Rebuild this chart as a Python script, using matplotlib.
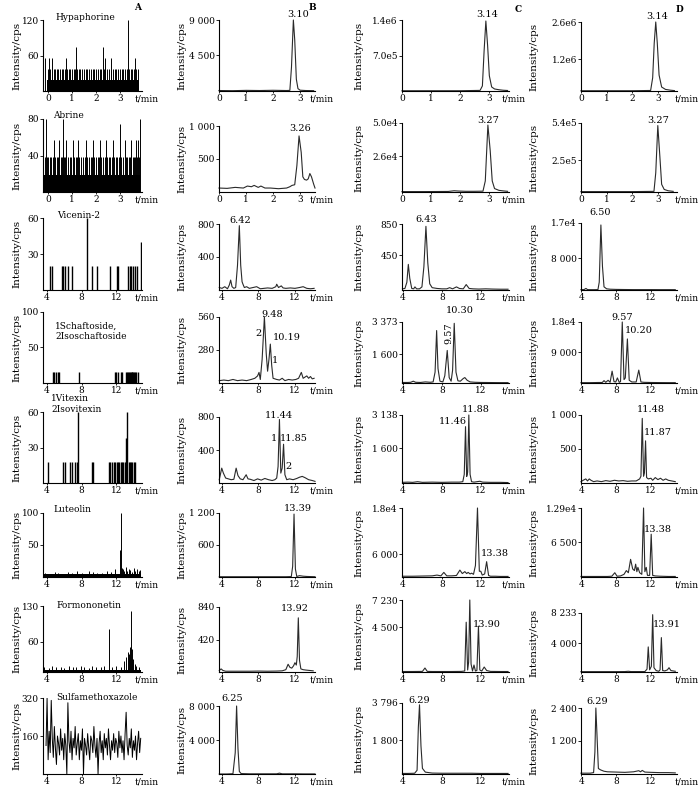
import numpy as np
import matplotlib.pyplot as plt

plt.rcParams['font.family'] = 'DejaVu Serif'

# ---------------- data ----------------
compounds = ['Hypaphorine', 'Abrine', 'Vicenin-2', '1Schaftoside,\n2Isoschaftoside',
             '1Vitexin\n2Isovitexin', 'Luteolin', 'Formononetin', 'Sulfamethoxazole']
panel_letters = ['A', 'B', 'C', 'D']
early_xticks = [0, 1, 2, 3]
late_xticks = [4, 8, 12]

yt_a = [[60, 120], [40, 80], [30, 60], [50, 100], [30, 60], [50, 100], [60, 130], [160, 320]]
yl_a = [['60', '120'], ['40', '80'], ['30', '60'], ['50', '100'], ['30', '60'], ['50', '100'], ['60', '130'], ['160', '320']]
yt_b = [[4500, 9000], [500, 1000], [400, 800], [280, 560], [400, 800], [600, 1200], [420, 840], [4000, 8000]]
yl_b = [['4 500', '9 000'], ['500', '1 000'], ['400', '800'], ['280', '560'], ['400', '800'], ['600', '1 200'], ['420', '840'], ['4 000', '8 000']]
yt_c = [[7.0e5, 1.4e6], [2.6e4, 5.0e4], [450, 850], [1600, 3373], [1600, 3138], [6000, 1.8e4], [4500, 7230], [1800, 3796]]
yl_c = [['7.0e5', '1.4e6'], ['2.6e4', '5.0e4'], ['450', '850'], ['1 600', '3 373'], ['1 600', '3 138'], ['6 000', '1.8e4'], ['4 500', '7 230'], ['1 800', '3 796']]
yt_d = [[1.2e6, 2.6e6], [2.5e5, 5.4e5], [8000, 1.7e4], [9000, 1.8e4], [500, 1000], [6500, 1.29e4], [4000, 8233], [1200, 2400]]
yl_d = [['1.2e6', '2.6e6'], ['2.5e5', '5.4e5'], ['8 000', '1.7e4'], ['9 000', '1.8e4'], ['500', '1 000'], ['6 500', '1.29e4'], ['4 000', '8 233'], ['1 200', '2 400']]

# column A: sparse ion counts (sticks)
a1_band = [-0.05, 3.78]
a1_band_h = 19
a1_mid_t = [0.0, 0.05, 0.11, 0.17, 0.24, 0.3, 0.36, 0.42, 0.5, 0.58, 0.64, 0.7, 0.8, 0.86, 0.92, 1.0,
            1.07, 1.13, 1.22, 1.28, 1.35, 1.42, 1.5, 1.57, 1.63, 1.7, 1.78, 1.86, 1.93, 2.0, 2.08, 2.14,
            2.2, 2.32, 2.38, 2.46, 2.53, 2.6, 2.7, 2.77, 2.84, 2.9, 2.98, 3.06, 3.12, 3.2, 3.27, 3.37,
            3.44, 3.5, 3.58, 3.66, 3.73]
a1_mid_h = 38
a1_tall_t = [-0.1, 0.06, 0.19, 0.75, 1.17, 2.28, 2.35, 2.63, 3.32, 3.6]
a1_tall_h = [55, 55, 55, 55, 75, 75, 55, 55, 120, 55]

a2_band = [-0.15, 3.82]
a2_band_h = 19
a2_mid_t = [-0.12, -0.05, 0.02, 0.08, 0.15, 0.21, 0.3, 0.37, 0.44, 0.53, 0.6, 0.67, 0.72, 0.82, 0.9,
            0.96, 1.08, 1.15, 1.2, 1.3, 1.38, 1.45, 1.52, 1.62, 1.7, 1.77, 1.82, 1.92, 2.0, 2.06,
            2.12, 2.22, 2.3, 2.36, 2.45, 2.52, 2.58, 2.65, 2.75, 2.82, 2.88, 2.95, 3.02, 3.1, 3.22,
            3.28, 3.35, 3.42, 3.52, 3.58, 3.62, 3.7, 3.78]
a2_mid_h = 38
a2_tall_t = [-0.08, 0.26, 0.47, 0.61, 0.75, 1.03, 1.24, 1.58, 1.86, 2.14, 2.39, 2.69, 2.97, 3.18, 3.46, 3.67, 3.74, 3.8]
a2_tall_h = [80, 57, 57, 80, 57, 57, 57, 57, 57, 57, 57, 57, 75, 57, 57, 57, 57, 80]

a3_t = [4.36, 4.55, 5.7, 5.9, 6.08, 6.4, 6.86, 8.66, 9.16, 9.74, 11.27, 12.04, 12.23, 13.38,
        13.57, 13.65, 13.95, 14.15, 14.34, 14.8]
a3_h = [20, 20, 20, 20, 20, 20, 20, 60, 20, 20, 20, 20, 20, 20, 20, 20, 20, 20, 20, 40]

a4_t = [4.74, 4.86, 5.0, 5.3, 5.4, 7.7, 11.8, 12.0, 12.2, 12.5, 12.6, 13.15, 13.25, 13.35, 13.45,
        13.55, 13.65, 13.75, 13.85, 13.95, 14.05, 14.15, 14.3, 14.45]
a4_h = [16, 16, 16, 16, 16, 16, 16, 16, 16, 16, 16, 16, 16, 16, 16, 16, 16, 16, 16, 16, 16, 16, 16, 16]

a5_t = [4.16, 5.9, 6.08, 6.66, 6.86, 7.24, 7.43, 7.6, 9.16, 9.35, 11.1, 11.3, 11.5, 11.7, 11.85,
        12.05, 12.2, 12.35, 12.5, 12.65, 12.8, 12.95, 13.05, 13.15, 13.25, 13.4, 13.55, 13.7,
        13.85, 14.0, 14.15]
a5_h = [18, 18, 18, 18, 18, 18, 18, 60, 18, 18, 18, 18, 18, 18, 18, 18, 18, 18, 18, 18, 18, 18,
        38, 18, 60, 18, 18, 18, 18, 18, 18]

a6_band = [3.6, 14.8]
a6_band_h = 4
a6_t = [3.8, 4.3, 4.9, 5.3, 5.9, 6.4, 6.9, 7.5, 8.0, 8.4, 8.9, 9.3, 9.8, 10.4, 10.9, 11.4, 11.8,
        12.4, 12.5, 12.6, 12.75, 12.9, 13.1, 13.25, 13.4, 13.6, 13.8, 14.0, 14.2, 14.4, 14.6, 14.75]
a6_h = [6, 5, 8, 7, 5, 8, 6, 9, 7, 5, 10, 8, 6, 7, 9, 8, 12, 42, 100, 14, 12, 10, 15, 9, 13, 11, 8,
        14, 10, 12, 9, 11]

a7_band = [3.6, 14.8]
a7_band_h = 4
a7_t = [3.7, 4.2, 4.6, 5.1, 5.6, 6.0, 6.5, 7.0, 7.4, 7.9, 8.3, 8.8, 9.2, 9.7, 10.2, 10.6, 11.1,
        11.5, 12.0, 12.5, 12.9, 13.1, 13.3, 13.45, 13.55, 13.67, 13.8, 13.95, 14.1, 14.3, 14.6]
a7_h = [10, 8, 12, 9, 10, 8, 11, 10, 9, 12, 10, 8, 11, 10, 9, 12, 85, 10, 12, 10, 22, 30, 40, 35,
        50, 120, 45, 25, 15, 12, 10]

a8_y = [120, 320, 60, 180, 90, 310, 150, 70, 200, 110, 40, 160, 130, 80, 190, 100, 150, 60, 170,
        120, 0, 300, 140, 90, 180, 60, 150, 110, 200, 80, 130, 170, 60, 140, 100, 190, 0, 150,
        120, 80, 170, 110, 60, 160, 140, 90, 200, 120, 70, 150, 0, 130, 180, 90, 140, 60, 170,
        110, 150, 80, 190, 120, 60, 140, 100, 170, 90, 150, 130, 70, 180, 110, 160, 90, 140, 60,
        170, 260, 120, 80, 150, 110, 190, 70, 140, 100, 160, 60, 130, 180, 90, 150]
a8_range = [3.9, 14.8]

# columns B-D: chromatogram traces (time, intensity)
b1_t = [0, 0.5, 1.0, 1.5, 2.0, 2.5, 2.62, 2.68, 2.75, 2.8, 2.86, 2.92, 3.0, 3.2, 3.5]
b1_y = [60, 40, 80, 60, 90, 60, 80, 3000, 9000, 6500, 1500, 300, 100, 60, 40]
b2_t = [0, 0.3, 0.6, 0.9, 1.05, 1.2, 1.3, 1.45, 1.55, 1.7, 1.9, 2.2, 2.5, 2.62, 2.7, 2.8, 2.88,
        2.96, 3.04, 3.1, 3.16, 3.24, 3.3, 3.36, 3.42, 3.5, 3.55]
b2_y = [60, 55, 70, 60, 90, 80, 100, 70, 90, 60, 60, 50, 60, 80, 100, 110, 400, 850, 600, 230,
        190, 180, 200, 280, 230, 120, 60]
b3_t = [3.7, 4.0, 4.3, 4.6, 4.8, 4.95, 5.1, 5.3, 5.5, 5.7, 5.9, 6.05, 6.2, 6.3, 6.45, 6.7, 7.0,
        7.4, 7.8, 8.2, 8.6, 9.0, 9.5, 9.9, 10.0, 10.2, 10.5, 10.7, 11.0, 11.5, 12.0, 12.5, 12.9,
        13.3, 13.7, 14.1]
b3_y = [30, 20, 40, 15, 60, 120, 40, 20, 30, 300, 780, 300, 100, 70, 30, 40, 20, 30, 40, 15, 20,
        25, 20, 40, 70, 30, 50, 25, 20, 25, 20, 30, 40, 20, 15, 20]
b4_t = [3.7, 4.2, 4.7, 5.2, 5.7, 6.2, 6.7, 7.2, 7.6, 7.9, 8.06, 8.2, 8.4, 8.65, 8.85, 9.0, 9.15,
        9.3, 9.45, 9.6, 10.0, 10.3, 10.6, 10.9, 11.3, 11.7, 12.1, 12.4, 12.7, 12.9, 13.1, 13.3,
        13.5, 13.7, 13.9, 14.1]
b4_y = [20, 25, 20, 30, 20, 25, 20, 30, 40, 60, 90, 30, 200, 560, 250, 100, 200, 330, 150, 40, 30,
        25, 40, 20, 30, 25, 30, 40, 90, 40, 50, 60, 40, 55, 35, 40]
b5_t = [3.7, 3.97, 4.15, 4.4, 4.7, 5.0, 5.3, 5.55, 5.75, 6.0, 6.3, 6.65, 6.85, 7.1, 7.5, 7.9, 8.3,
        8.7, 9.1, 9.5, 9.8, 10.0, 10.15, 10.3, 10.45, 10.6, 10.75, 10.9, 11.1, 11.4, 11.8, 12.2,
        12.5, 12.8, 13.1, 13.5, 13.9, 14.2]
b5_y = [40, 180, 120, 60, 50, 40, 45, 180, 90, 50, 40, 100, 50, 45, 30, 50, 35, 55, 40, 30, 40, 60,
        200, 770, 120, 180, 470, 100, 40, 50, 40, 55, 70, 80, 65, 40, 30, 20]
b6_t = [3.7, 5, 7, 9, 11, 11.6, 11.75, 11.9, 12.05, 12.2, 12.5, 12.9, 13.3, 14.2]
b6_y = [5, 5, 5, 5, 5, 8, 200, 1180, 150, 10, 25, 15, 10, 5]
b7_t = [3.7, 3.9, 4.1, 4.4, 5, 6, 7, 8, 9, 10, 10.6, 11.0, 11.25, 11.45, 11.65, 11.85, 12.0, 12.15,
        12.25, 12.37, 12.5, 12.65, 12.9, 13.2, 13.6, 14.0]
b7_y = [20, 40, 20, 10, 10, 10, 10, 12, 10, 12, 15, 30, 100, 60, 50, 80, 120, 90, 200, 700, 150,
        40, 30, 25, 20, 15]
b8_t = [3.7, 4.5, 5.2, 5.45, 5.6, 5.75, 5.9, 6.1, 7, 8, 9, 10, 10.3, 10.6, 11, 12, 13, 14.2]
b8_y = [0, 0, 30, 2500, 8000, 3000, 300, 50, 20, 20, 20, 20, 100, 20, 20, 20, 10, 10]

c1_t = [0, 1, 2, 2.7, 2.78, 2.84, 2.9, 2.96, 3.02, 3.1, 3.2, 3.35, 3.5, 3.65]
c1_y = [5e3, 5e3, 5e3, 1.2e4, 1e5, 8e5, 1.38e6, 9e5, 3e5, 8e4, 4e4, 2.5e4, 1.5e4, 1e4]
c2_t = [0, 0.8, 1.6, 1.8, 1.95, 2.2, 2.5, 2.8, 2.88, 2.97, 3.05, 3.12, 3.2, 3.35, 3.5, 3.65]
c2_y = [300, 300, 400, 900, 700, 500, 500, 600, 8000, 4.85e4, 3.0e4, 8000, 2500, 1200, 800, 500]
c3_t = [3.95, 4.2, 4.4, 4.55, 4.7, 4.9, 5.1, 5.23, 5.4, 5.7, 5.95, 6.15, 6.36, 6.55, 6.75, 7.0,
        7.5, 8.0, 8.5, 8.8, 9.1, 9.5, 9.8, 10.2, 10.5, 10.8, 11.2, 11.8, 12.5, 13.2, 14.0, 14.8]
c3_y = [15, 20, 100, 330, 150, 20, 15, 40, 15, 15, 40, 300, 820, 350, 80, 30, 20, 15, 15, 30, 15,
        40, 20, 15, 70, 20, 15, 12, 15, 12, 10, 10]
c4_t = [3.95, 4.5, 4.8, 5.06, 5.3, 5.8, 6.3, 6.8, 7.1, 7.3, 7.46, 7.6, 7.8, 8.1, 8.3, 8.55, 8.75,
        8.95, 9.1, 9.27, 9.45, 9.65, 9.9, 10.2, 10.36, 10.6, 10.9, 11.4, 12, 13, 14, 14.8]
c4_y = [30, 30, 40, 100, 40, 30, 60, 40, 60, 600, 2900, 800, 100, 60, 400, 1800, 300, 100, 700,
        3300, 600, 120, 100, 250, 300, 150, 60, 40, 30, 25, 20, 20]
c5_t = [3.95, 4.5, 5.0, 5.5, 6.0, 7.0, 8.0, 9.0, 9.8, 10.15, 10.3, 10.43, 10.55, 10.65, 10.77,
        10.9, 11.05, 11.3, 11.9, 12.2, 13, 14, 14.8]
c5_y = [30, 40, 30, 60, 30, 40, 30, 40, 40, 60, 400, 2600, 300, 500, 3138, 400, 60, 40, 80, 40,
        30, 30, 20]
c6_t = [3.95, 5, 6, 7, 7.5, 7.9, 8.2, 8.5, 9.0, 9.5, 9.85, 10.1, 10.36, 10.55, 10.7, 10.9, 11.05,
        11.25, 11.45, 11.66, 11.85, 12.0, 12.15, 12.4, 12.6, 12.8, 13.0, 13.5, 14, 14.8]
c6_y = [200, 200, 250, 300, 500, 300, 1200, 300, 300, 400, 1800, 900, 1400, 900, 1200, 800, 1000,
        700, 3000, 1.8e4, 1500, 1500, 500, 800, 4000, 400, 200, 200, 150, 150]
c7_t = [3.95, 5, 6.0, 6.26, 6.5, 7, 8, 9, 10, 10.35, 10.5, 10.65, 10.75, 10.87, 11.0, 11.15, 11.3,
        11.45, 11.6, 11.76, 11.9, 12.1, 12.35, 12.6, 13, 14, 14.8]
c7_y = [50, 50, 60, 400, 60, 50, 50, 50, 60, 100, 5000, 200, 1000, 7230, 800, 100, 700, 100, 150,
        4600, 200, 100, 500, 150, 60, 50, 50]
c8_t = [3.95, 4.5, 5.2, 5.45, 5.58, 5.7, 5.85, 6.0, 6.3, 7, 8, 9, 10, 11, 12, 13, 14, 14.8]
c8_y = [30, 30, 40, 200, 2500, 3700, 1500, 300, 100, 50, 40, 40, 40, 40, 30, 30, 30, 30]

d1_t = [0, 1, 2, 2.72, 2.8, 2.86, 2.92, 2.98, 3.05, 3.15, 3.3, 3.5, 3.65]
d1_y = [1e4, 1e4, 1e4, 2e4, 5e5, 1.8e6, 2.6e6, 1.8e6, 6e5, 1.5e5, 6e4, 3e4, 1.5e4]
d2_t = [0, 1, 2, 2.85, 2.92, 3.0, 3.08, 3.15, 3.25, 3.4, 3.6]
d2_y = [3000, 3000, 3000, 5000, 1.5e5, 5.2e5, 2.8e5, 6e4, 2e4, 1e4, 5000]
d3_t = [3.95, 4.3, 4.52, 4.7, 5.0, 5.5, 5.9, 6.05, 6.24, 6.42, 6.6, 6.9, 7.3, 8, 9, 10, 11, 12,
        13, 14, 14.8]
d3_y = [100, 100, 400, 100, 80, 80, 100, 2000, 1.65e4, 6000, 800, 300, 200, 150, 120, 100, 100,
        100, 90, 90, 80]
d4_t = [3.95, 5, 6, 6.4, 6.6, 6.8, 7.07, 7.3, 7.53, 7.75, 7.95, 8.14, 8.35, 8.5, 8.7, 8.9, 9.05,
        9.29, 9.5, 9.8, 10.3, 10.6, 10.85, 11.2, 12, 13, 14, 14.8]
d4_y = [100, 100, 150, 150, 700, 200, 800, 200, 3500, 400, 300, 1500, 200, 400, 1.8e4, 1000, 1500,
        1.3e4, 800, 300, 300, 3800, 300, 200, 150, 120, 100, 100]
d5_t = [3.95, 4.2, 4.5, 4.7, 4.9, 5.1, 5.4, 5.8, 6.3, 6.8, 7.3, 7.8, 8.3, 8.8, 9.3, 9.8, 10.3,
        10.7, 10.85, 11.0, 11.15, 11.25, 11.38, 11.5, 11.7, 12.0, 12.2, 12.5, 12.8, 13.1, 13.4,
        13.7, 14.0, 14.4, 14.8]
d5_y = [20, 40, 60, 30, 60, 40, 20, 30, 20, 35, 25, 40, 30, 35, 25, 30, 30, 60, 100, 950, 100,
        150, 620, 80, 60, 70, 40, 80, 50, 70, 40, 60, 40, 30, 20]
d6_t = [3.95, 5, 6, 7, 7.5, 7.84, 8.1, 8.5, 8.9, 9.17, 9.4, 9.66, 9.9, 10.1, 10.24, 10.38, 10.5,
        10.7, 10.95, 11.15, 11.3, 11.46, 11.6, 11.85, 12.03, 12.2, 12.5, 13, 14, 14.8]
d6_y = [100, 100, 100, 100, 150, 800, 150, 200, 500, 1200, 800, 3300, 1500, 1200, 2400, 1000, 1800,
        800, 500, 1.29e4, 1000, 1800, 300, 300, 8000, 300, 200, 150, 100, 100]
d7_t = [3.95, 5, 6, 7, 8, 9, 9.4, 9.7, 10.5, 11.3, 11.55, 11.69, 11.85, 12.05, 12.2, 12.35, 12.6,
        12.9, 13.05, 13.2, 13.35, 13.6, 13.9, 14.08, 14.3, 14.8]
d7_y = [50, 50, 50, 50, 50, 60, 100, 60, 60, 60, 400, 3500, 300, 800, 8000, 600, 200, 100, 300,
        4800, 200, 150, 300, 600, 200, 100]
d8_t = [3.95, 5, 5.4, 5.55, 5.66, 5.78, 5.95, 6.2, 6.6, 7, 8, 9, 10, 10.6, 10.8, 11.0, 11.3, 12,
        13, 14, 14.8]
d8_y = [30, 30, 50, 800, 2400, 1500, 200, 150, 100, 80, 70, 60, 80, 120, 80, 130, 70, 60, 50, 50, 40]

# peak labels (text, retention time label placement t, intensity)
peaks_b = [[('3.10', 2.91, 9634)], [('3.26', 3.0, 960)], [('6.42', 5.98, 848)],
           [('9.48', 9.46, 577), ('2', 7.96, 424), ('10.19', 11.14, 390), ('1', 9.8, 195)],
           [('11.44', 10.19, 824), ('1', 9.75, 542), ('11.85', 11.83, 545), ('2', 11.28, 198)],
           [('13.39', 12.32, 1288)], [('13.92', 11.98, 823)], [('6.25', 5.1, 8906)]]
peaks_c = [[('3.14', 2.94, 1.5e6)], [('3.27', 2.98, 5.15e4)], [('6.43', 6.36, 913)],
           [('10.30', 9.85, 4026), ('9.57', 8.72, 2774)],
           [('11.88', 11.49, 3369), ('11.46', 9.1, 2827)],
           [('13.38', 13.44, 6183)], [('13.90', 12.58, 4720)], [('6.29', 5.7, 3956)]]
peaks_d = [[('3.14', 2.98, 2.79e6)], [('3.27', 3.0, 5.6e5)], [('6.50', 6.13, 1.96e4)],
           [('9.57', 8.67, 1.94e4), ('10.20', 10.6, 1.54e4)],
           [('11.48', 12.03, 1084), ('11.87', 12.79, 740)],
           [('13.38', 12.79, 8787)], [('13.91', 13.82, 6559)], [('6.29', 5.81, 2629)]]

# ---------------- layout (pixels of the 700x787 picture) ----------------
W, H = 700, 787
col_left = [43, 219, 402, 581]
col_right = [142, 315, 509, 677]
row_bottom = [91, 192, 290, 383, 483, 577, 672, 774]
row_top = [[20, 20, 20, 22], [119, 126, 123, 123], [218, 224, 224, 223], [312, 317, 322, 322],
           [412, 417, 415, 415], [513, 513, 508, 508], [606, 607, 600, 613], [698, 706, 703, 708]]
early_xlim = [(-0.2, 3.9), (0, 3.55), (0, 3.7), (0, 3.75)]
late_xlim = [(3.55, 14.95), (3.67, 14.2), (3.9, 14.9), (3.95, 15.0)]
ylabel_x = [17, 182, 359, 534]
tmin_x = [135, 310, 502, 675]
letter_xy = [(138, 7), (312, 7), (518, 9), (679, 9)]
name_xy = [(55, 17), (53, 115), (57, 215), (55, 331), (51, 404), (53, 510), (56, 606), (56, 698)]

fig = plt.figure(figsize=(W / 100, H / 100), dpi=100)
fig.patch.set_facecolor('white')

traces = {
    1: [(b1_t, b1_y), (b2_t, b2_y), (b3_t, b3_y), (b4_t, b4_y), (b5_t, b5_y), (b6_t, b6_y), (b7_t, b7_y), (b8_t, b8_y)],
    2: [(c1_t, c1_y), (c2_t, c2_y), (c3_t, c3_y), (c4_t, c4_y), (c5_t, c5_y), (c6_t, c6_y), (c7_t, c7_y), (c8_t, c8_y)],
    3: [(d1_t, d1_y), (d2_t, d2_y), (d3_t, d3_y), (d4_t, d4_y), (d5_t, d5_y), (d6_t, d6_y), (d7_t, d7_y), (d8_t, d8_y)],
}
peak_labels = {1: peaks_b, 2: peaks_c, 3: peaks_d}
ytick_vals = [yt_a, yt_b, yt_c, yt_d]
ytick_lbls = [yl_a, yl_b, yl_c, yl_d]


def draw_col_a(ax, row):
    kw = dict(color='black', lw=0.7)
    if row == 0:
        ax.fill_between(a1_band, 0, a1_band_h, color='black', lw=0)
        ax.vlines(a1_mid_t, 0, a1_mid_h, **kw)
        ax.vlines(a1_tall_t, 0, a1_tall_h, **kw)
    elif row == 1:
        ax.fill_between(a2_band, 0, a2_band_h, color='black', lw=0)
        ax.vlines(a2_mid_t, 0, a2_mid_h, **kw)
        ax.vlines(a2_tall_t, 0, a2_tall_h, **kw)
    elif row == 2:
        ax.vlines(a3_t, 0, a3_h, color='black', lw=1.0)
    elif row == 3:
        ax.vlines(a4_t, 0, a4_h, color='black', lw=1.0)
    elif row == 4:
        ax.vlines(a5_t, 0, a5_h, color='black', lw=1.0)
    elif row == 5:
        ax.fill_between(a6_band, 0, a6_band_h, color='black', lw=0)
        ax.vlines(a6_t, 0, a6_h, **kw)
    elif row == 6:
        ax.fill_between(a7_band, 0, a7_band_h, color='black', lw=0)
        ax.vlines(a7_t, 0, a7_h, **kw)
    else:
        t = np.linspace(a8_range[0], a8_range[1], len(a8_y))
        ax.plot(t, a8_y, color='black', lw=0.7)


for row in range(8):
    for col in range(4):
        l, r = col_left[col], col_right[col]
        top, bot = row_top[row][col], row_bottom[row]
        ax = fig.add_axes([l / W, 1 - bot / H, (r - l) / W, (bot - top) / H])
        ax.patch.set_alpha(0)
        for s in ['top', 'right']:
            ax.spines[s].set_visible(False)
        for s in ['left', 'bottom']:
            ax.spines[s].set_linewidth(0.8)

        if row < 2:
            ax.set_xlim(*early_xlim[col])
            ax.set_xticks(early_xticks)
        else:
            ax.set_xlim(*late_xlim[col])
            ax.set_xticks(late_xticks)
        ymax = ytick_vals[col][row][1]
        ax.set_ylim(0, ymax)
        ax.set_yticks(ytick_vals[col][row])
        ax.set_yticklabels(ytick_lbls[col][row])
        ax.tick_params(axis='x', length=1.5, width=0.6, pad=1, labelsize=6.5)
        ax.tick_params(axis='y', length=2, width=0.6, pad=1, labelsize=6.5)

        if col == 0:
            draw_col_a(ax, row)
        else:
            t, y = traces[col][row]
            ax.plot(t, y, color='#2a2a2a', lw=0.8, clip_on=False)
            for txt, tx, ty in peak_labels[col][row]:
                rot = 90 if (col == 2 and row == 3 and txt == '9.57') else 0
                ax.text(tx, ty, txt, ha='center', va='center', fontsize=7,
                        rotation=rot, clip_on=False)

        # axis captions
        fig.text(tmin_x[col] / W, 1 - (bot + 8) / H, 't/min', ha='left', va='center', fontsize=6.5)
        fig.text(ylabel_x[col] / W, 1 - ((top + bot) / 2) / H, 'Intensity/cps',
                 rotation=90, ha='center', va='center', fontsize=7.5)

for i, name in enumerate(compounds):
    x, y = name_xy[i]
    fig.text(x / W, 1 - y / H, name, ha='left', va='center', fontsize=6.5, linespacing=1.15)

for i, letter in enumerate(panel_letters):
    x, y = letter_xy[i]
    fig.text(x / W, 1 - y / H, letter, ha='center', va='center', fontsize=6.5, fontweight='bold')

fig.savefig('out.png', dpi=100)
